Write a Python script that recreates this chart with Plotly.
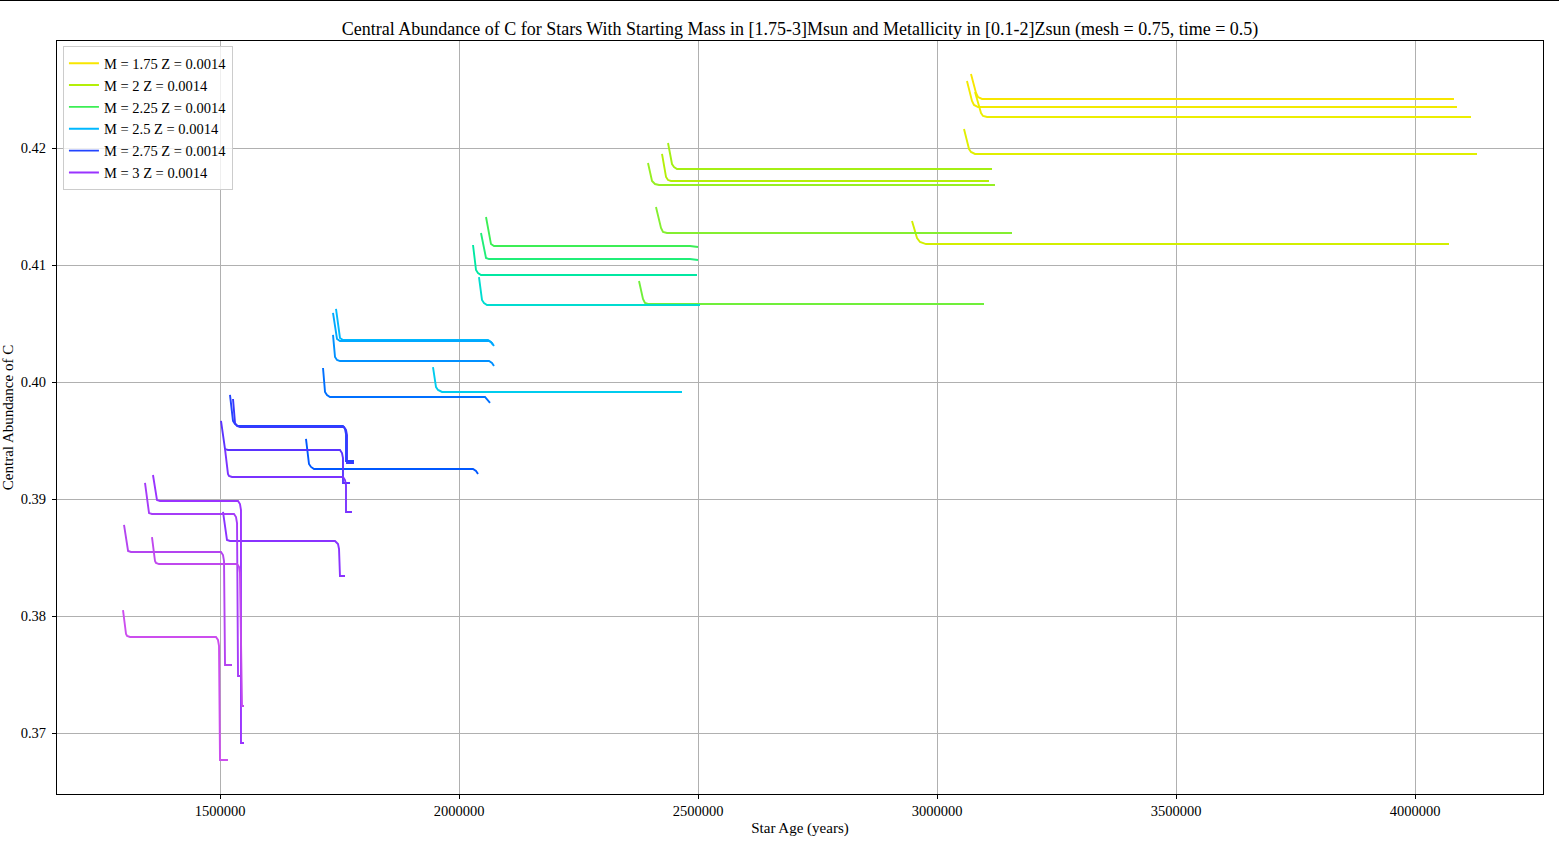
import plotly.graph_objects as go

# ---------------- data ----------------
MASSES = ["1.75", "2", "2.25", "2.5", "2.75", "3"]
Z_LABELS = ["0.0014", "0.007", "0.014", "0.021", "0.028"]

AGE_M175 = [
    [3071100, 3081600, 3085800, 3094200, 4081500],
    [3062700, 3073200, 3077400, 3085800, 4087800],
    [3079500, 3092100, 3096300, 3104700, 4117100],
    [3056500, 3067000, 3071100, 3079500, 4129700],
    [2947700, 2958200, 2964400, 2977000, 4071100],
]
C_M175 = [
    [0.42632, 0.42470, 0.42436, 0.42419, 0.42419],
    [0.42573, 0.42402, 0.42368, 0.42350, 0.42350],
    [0.42479, 0.42299, 0.42274, 0.42265, 0.42265],
    [0.42162, 0.41991, 0.41966, 0.41949, 0.41949],
    [0.41376, 0.41231, 0.41197, 0.41179, 0.41179],
]

AGE_M2 = [
    [2424700, 2433100, 2437300, 2443500, 3108800],
    [2437300, 2445600, 2449800, 2456100, 3115100],
    [2395400, 2403800, 2410000, 2418400, 3121300],
    [2412100, 2422600, 2426800, 2435100, 3156900],
    [2376600, 2384900, 2389100, 2395400, 3098300],
]
C_M2 = [
    [0.41949, 0.41752, 0.41726, 0.41718, 0.41718],
    [0.42043, 0.41863, 0.41838, 0.41821, 0.41821],
    [0.41872, 0.41718, 0.41692, 0.41684, 0.41684],
    [0.41496, 0.41316, 0.41282, 0.41274, 0.41274],
    [0.40863, 0.40709, 0.40675, 0.40667, 0.40667],
]

AGE_M225 = [
    [2056500, 2064900, 2066900, 2073200, 2483300, 2500000],
    [2046000, 2054400, 2056500, 2062800, 2483300, 2500000],
    [2029300, 2035600, 2039700, 2046000, 2497900],
    [2041800, 2048100, 2052300, 2058600, 2504200],
    [1945600, 1951900, 1956100, 1964400, 2466500],
]
C_M225 = [
    [0.41410, 0.41205, 0.41179, 0.41162, 0.41162, 0.41154],
    [0.41274, 0.41085, 0.41060, 0.41051, 0.41051, 0.41043],
    [0.41171, 0.40957, 0.40932, 0.40915, 0.40915],
    [0.40897, 0.40701, 0.40675, 0.40658, 0.40658],
    [0.40128, 0.39957, 0.39932, 0.39915, 0.39915],
]

AGE_M25 = [
    [1742700, 1749000, 1751000, 1757300, 2060700, 2066900, 2071100],
    [1736400, 1742700, 1744800, 1751000, 2062800, 2069000, 2073200],
    [1736400, 1740600, 1744800, 1751000, 2062800, 2069000, 2073200],
    [1715500, 1719700, 1723800, 1730100, 2054400, 2060700, 2064900],
    [1679900, 1686200, 1690400, 1696700, 2029300, 2035600, 2039800],
]
C_M25 = [
    [0.40624, 0.40402, 0.40376, 0.40359, 0.40359, 0.40342, 0.40316],
    [0.40590, 0.40393, 0.40368, 0.40350, 0.40350, 0.40333, 0.40308],
    [0.40402, 0.40214, 0.40188, 0.40179, 0.40179, 0.40162, 0.40137],
    [0.40120, 0.39915, 0.39889, 0.39872, 0.39872, 0.39846, 0.39821],
    [0.39513, 0.39299, 0.39274, 0.39256, 0.39256, 0.39239, 0.39214],
]

AGE_M275 = [
    [1520900, 1527200, 1531400, 1537700, 1757300, 1761500, 1763600, 1763600, 1780300],
    [1527200, 1531400, 1535600, 1541800, 1759400, 1763600, 1765700, 1765700, 1780300],
    [1502100, 1508400, 1510500, 1516700, 1751000, 1755200, 1757300, 1757300, 1772000],
    [1510500, 1516700, 1518800, 1525100, 1757300, 1761500, 1763600, 1763600, 1776100],
    [1506300, 1512600, 1514600, 1520900, 1740600, 1746900, 1749000, 1751000, 1761500],
]
C_M275 = [
    [0.39889, 0.39667, 0.39641, 0.39624, 0.39624, 0.39598, 0.39556, 0.39325, 0.39325],
    [0.39855, 0.39650, 0.39624, 0.39615, 0.39615, 0.39590, 0.39547, 0.39308, 0.39308],
    [0.39667, 0.39453, 0.39427, 0.39419, 0.39419, 0.39393, 0.39350, 0.39137, 0.39137],
    [0.39427, 0.39214, 0.39197, 0.39188, 0.39188, 0.39162, 0.39120, 0.38889, 0.38889],
    [0.38889, 0.38667, 0.38650, 0.38641, 0.38641, 0.38615, 0.38573, 0.38342, 0.38342],
]

AGE_M3 = [
    [1359800, 1366100, 1368200, 1374500, 1537700, 1541800, 1543900, 1543900, 1550200],
    [1343100, 1349400, 1351500, 1357700, 1529300, 1533500, 1535600, 1537700, 1543900],
    [1299200, 1305600, 1307700, 1313800, 1502100, 1506300, 1508400, 1510500, 1525100],
    [1357700, 1364000, 1366100, 1372400, 1535600, 1539800, 1541800, 1546000, 1550200],
    [1297100, 1303400, 1305600, 1311800, 1491600, 1495800, 1497900, 1500000, 1516700],
]
C_M3 = [
    [0.39205, 0.39009, 0.38991, 0.38983, 0.38983, 0.38957, 0.38906, 0.36915, 0.36915],
    [0.39137, 0.38906, 0.38880, 0.38872, 0.38872, 0.38846, 0.38795, 0.37487, 0.37487],
    [0.38778, 0.38573, 0.38556, 0.38547, 0.38547, 0.38521, 0.38470, 0.37581, 0.37581],
    [0.38675, 0.38470, 0.38453, 0.38444, 0.38444, 0.38419, 0.38368, 0.37231, 0.37231],
    [0.38051, 0.37846, 0.37829, 0.37821, 0.37821, 0.37795, 0.37744, 0.36769, 0.36769],
]

X_TICKS = [1500000, 2000000, 2500000, 3000000, 3500000, 4000000]
Y_TICKS = [0.37, 0.38, 0.39, 0.40, 0.41, 0.42]

# ---------------- styles ----------------
COLORS = [
    ["#f8e600", "#f2ea00", "#ecee00", "#e0ef00", "#d2ef00"],
    ["#b4ef08", "#a4ef14", "#96ef22", "#84ef30", "#70ef3a"],
    ["#3cee55", "#20ee78", "#00e8a2", "#00dcd0", "#00ccee"],
    ["#00b8ff", "#00a8ff", "#0090ff", "#0070ff", "#0058ff"],
    ["#2244ff", "#3838ff", "#5a33ff", "#7a33ff", "#8a33ff"],
    ["#9a33ff", "#a63cf8", "#b444f0", "#c048ee", "#cc4eee"],
]

GROUPS = [
    (AGE_M175, C_M175), (AGE_M2, C_M2), (AGE_M225, C_M225),
    (AGE_M25, C_M25), (AGE_M275, C_M275), (AGE_M3, C_M3),
]

FONT = "Liberation Serif"
L, R, T, B = 57, 16, 41, 47
PW, PH = 1559 - L - R, 841 - T - B

fig = go.Figure()
for gi, (ages, cs) in enumerate(GROUPS):
    for li, (xa, ya) in enumerate(zip(ages, cs)):
        fig.add_trace(go.Scatter(
            x=xa, y=ya, mode="lines",
            name=f"M = {MASSES[gi]} Z = {Z_LABELS[li]}",
            showlegend=(li == 0),
            line=dict(color=COLORS[gi][li], width=1.9),
            hoverinfo="skip",
        ))

fig.update_layout(
    width=1559, height=841,
    paper_bgcolor="white", plot_bgcolor="white",
    margin=dict(l=L, r=R, t=T, b=B, autoexpand=False),
    font=dict(family=FONT, size=15, color="black"),
    title=dict(
        text="Central Abundance of C for Stars With Starting Mass in [1.75-3]Msun and Metallicity in [0.1-2]Zsun (mesh = 0.75, time = 0.5)",
        x=800 / 1559, xanchor="center", y=1 - 29 / 841, yanchor="middle",
        font=dict(family=FONT, size=18),
    ),
    legend=dict(
        x=0.004, y=0.993, xanchor="left", yanchor="top",
        bgcolor="rgba(255,255,255,0.8)", bordercolor="#cccccc", borderwidth=1,
        font=dict(family=FONT, size=14.5), itemwidth=30,
    ),
    xaxis=dict(
        range=[1158996, 4267782], automargin=False,
        tickvals=X_TICKS, ticktext=[str(v) for v in X_TICKS],
        tickfont=dict(family=FONT, size=14.5),
        showgrid=True, gridcolor="#b0b0b0", gridwidth=1,
        zeroline=False, showline=True, linecolor="black", linewidth=1,
        mirror=True, ticks="outside", ticklen=4, tickcolor="black",
        title=dict(text="Star Age (years)", font=dict(family=FONT, size=15), standoff=4),
    ),
    yaxis=dict(
        range=[0.364786, 0.429145], automargin=False,
        tickvals=Y_TICKS, ticktext=[f"{v:.2f}" for v in Y_TICKS],
        tickfont=dict(family=FONT, size=14.5), ticklabelstandoff=3,
        showgrid=True, gridcolor="#b0b0b0", gridwidth=1,
        zeroline=False, showline=True, linecolor="black", linewidth=1,
        mirror=True, ticks="outside", ticklen=4, tickcolor="black",
        title=dict(text="Central Abundance of C", font=dict(family=FONT, size=15), standoff=4),
    ),
    shapes=[dict(type="line", xref="paper", yref="paper",
                 x0=-L / PW, x1=(1559 - L) / PW, y0=1 + (T - 0.5) / PH, y1=1 + (T - 0.5) / PH,
                 line=dict(color="black", width=1))],
)

fig.write_html("out.html", config={"displayModeBar": False},
               post_script="document.body.style.margin='0';")
